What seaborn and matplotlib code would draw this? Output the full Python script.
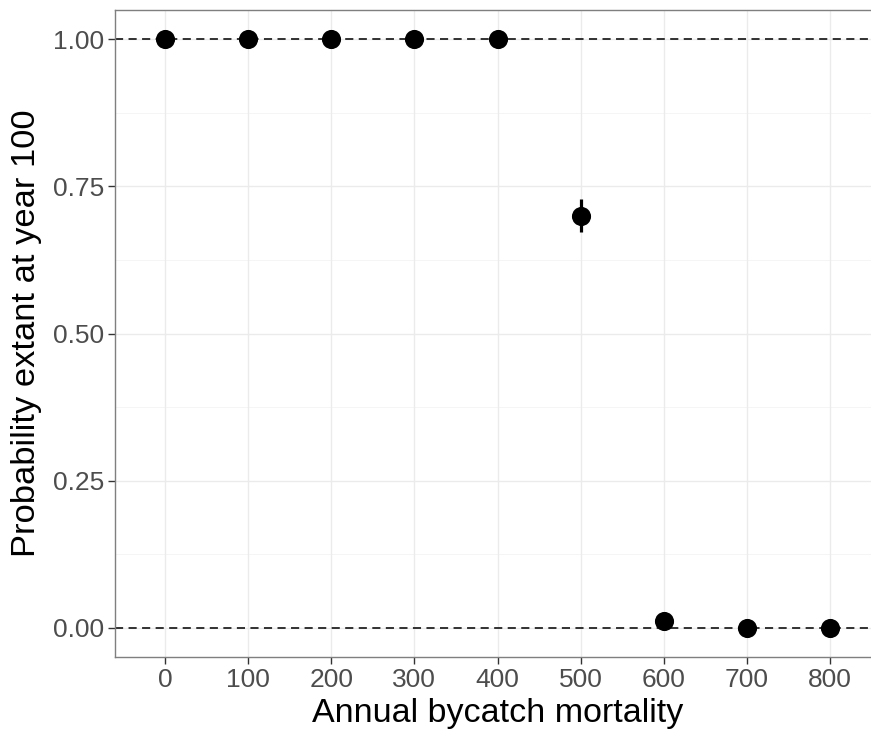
import matplotlib
matplotlib.use("Agg")
import matplotlib.pyplot as plt
import seaborn as sns
import pandas as pd
import numpy as np

bycatch = ["0", "100", "200", "300", "400", "500", "600", "700", "800"]
prob_extant = [1.0, 1.0, 1.0, 1.0, 1.0, 0.70, 0.011, 0.0, 0.0]
prob_err = [0.0, 0.0, 0.0, 0.0, 0.0, 0.028, 0.0, 0.0, 0.0]
y_ticks = [0.0, 0.25, 0.5, 0.75, 1.0]
y_tick_labels = ["0.00", "0.25", "0.50", "0.75", "1.00"]
ref_lines = [0.0, 1.0]

df = pd.DataFrame({"bycatch": bycatch, "prob": prob_extant, "err": prob_err})

sns.set_theme(style="white")
plt.rcParams["font.family"] = ["Liberation Sans", "DejaVu Sans"]

fig = plt.figure(figsize=(8.71, 7.31), dpi=100)
ax = fig.add_axes([115 / 871, 74 / 731, (880 - 115) / 871, 647 / 731])

# grid
for y in y_ticks:
    ax.axhline(y, color="#EBEBEB", lw=1.0, zorder=0)
for y in [0.125, 0.375, 0.625, 0.875]:
    ax.axhline(y, color="#F4F4F4", lw=0.6, zorder=0)
for i in range(len(bycatch)):
    ax.axvline(i, color="#EBEBEB", lw=1.0, zorder=0)

for y in ref_lines:
    ax.axhline(y, color="#222222", lw=1.3, linestyle=(0, (4.5, 3.0)), zorder=1)

xpos = np.arange(len(bycatch))
ax.errorbar(xpos, df["prob"], yerr=df["err"], fmt="none", ecolor="black",
            elinewidth=2.3, capsize=0, zorder=2)
sns.scatterplot(data=df, x="bycatch", y="prob", ax=ax, color="black",
                s=190, linewidth=0, zorder=3)

ax.set_xlim(-0.6, 8.6)
ax.set_ylim(-0.05, 1.05)
ax.set_yticks(y_ticks)
ax.set_yticklabels(y_tick_labels)
ax.set_xticks(xpos)
ax.set_xticklabels(bycatch)

ax.tick_params(axis="both", which="major", length=5, width=1.0, color="#333333",
               labelsize=19, labelcolor="#4D4D4D", pad=3, left=True, bottom=True)
ax.set_xlabel("Annual bycatch mortality", fontsize=24.5, color="black", labelpad=4)
ax.set_ylabel("Probability extant at year 100", fontsize=24.8, color="black", labelpad=8)

for s in ax.spines.values():
    s.set_color("#7F7F7F")
    s.set_linewidth(1.0)

fig.savefig("out.png", dpi=100)
